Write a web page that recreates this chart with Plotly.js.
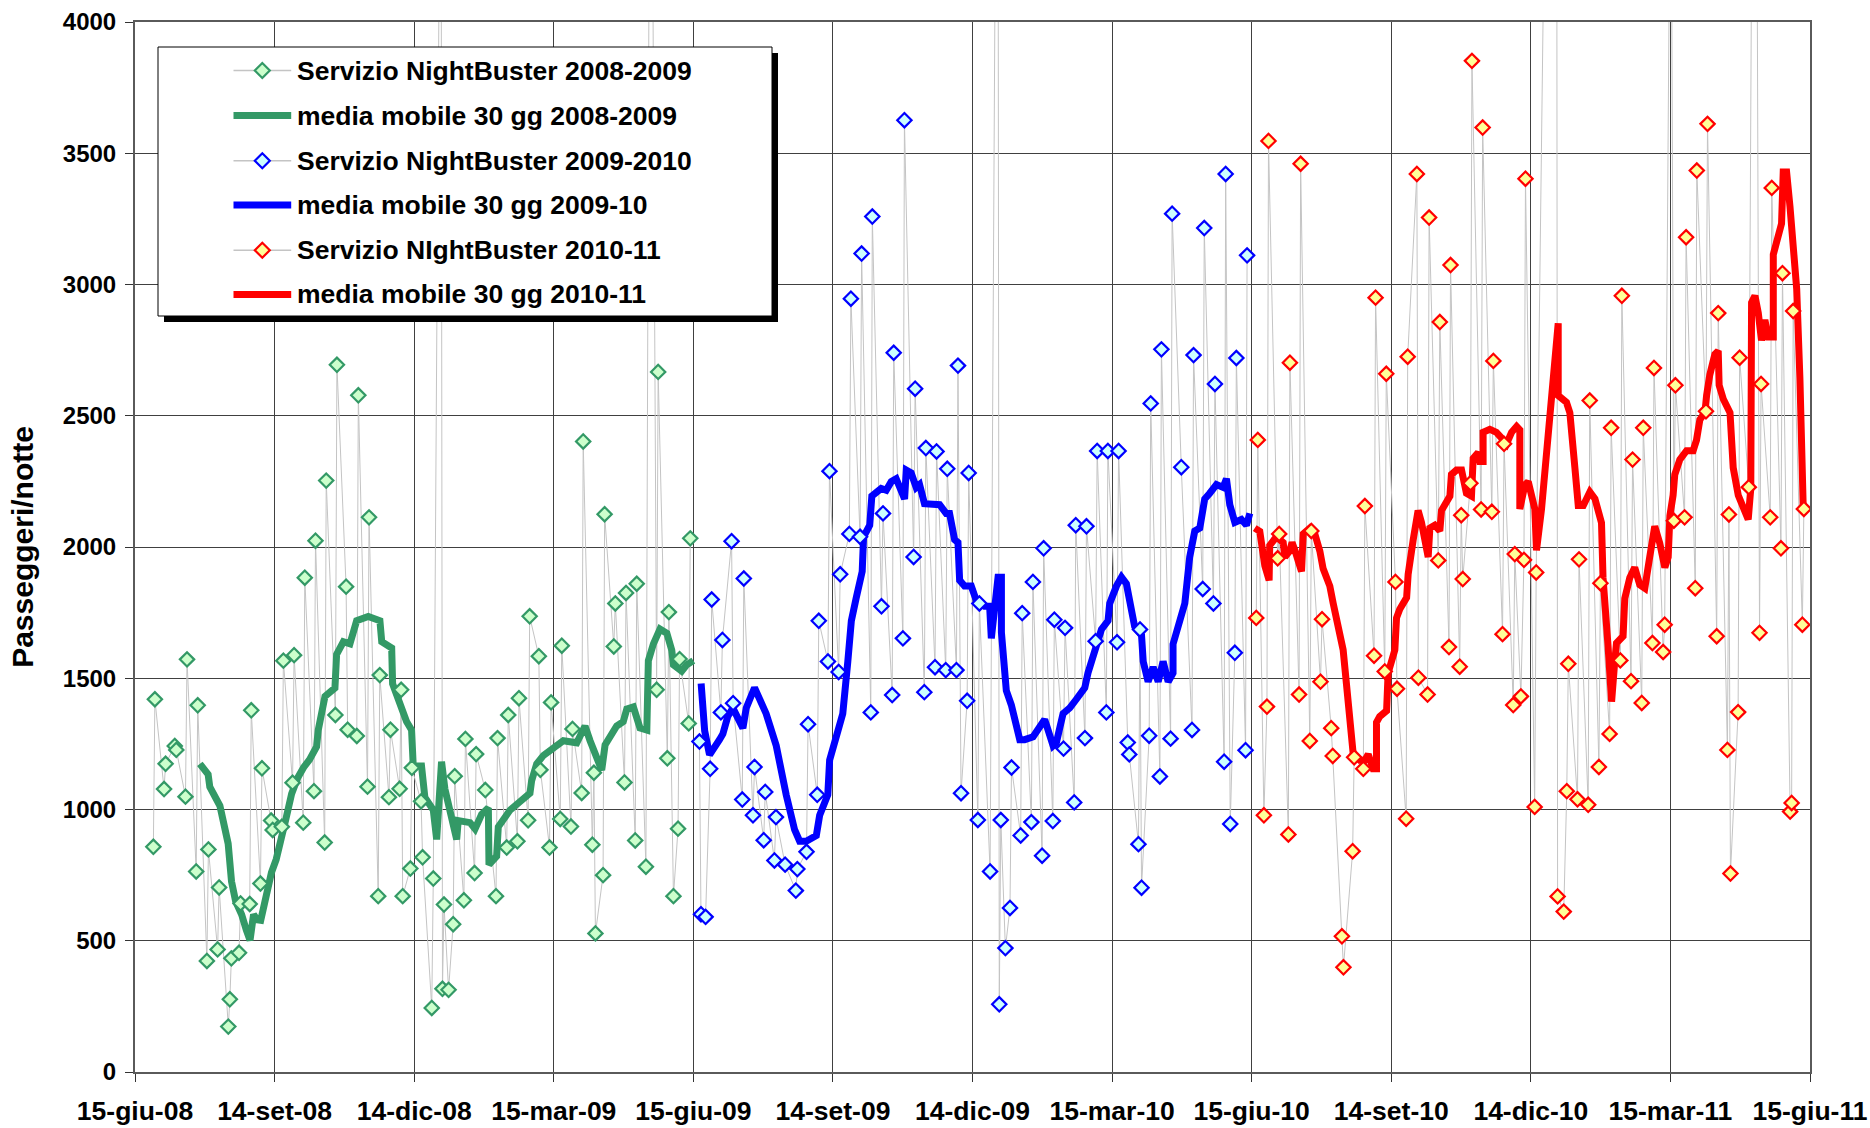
<!DOCTYPE html>
<html><head><meta charset="utf-8">
<script src="https://cdn.plot.ly/plotly-3.0.1.min.js"></script>
<style>html,body{margin:0;padding:0;background:#fff}#chart{width:1870px;height:1128px}</style>
</head><body><div id="chart"></div>
<script>
// ---- tick labels (x axis: days since 15-giu-08) ----
const tickLabels = ["15-giu-08","14-set-08","14-dic-08","15-mar-09","15-giu-09","14-set-09","14-dic-09","15-mar-10","15-giu-10","14-set-10","14-dic-10","15-mar-11","15-giu-11"];

// ---- Servizio NightBuster 2008-2009 (day offset, passengers) ----
const giorni0809 = [12,13,19,20,26,27,33,34,40,41,47,48,54,55,61,62,63,68,69,75,76,82,83,89,90,96,97,103,104,110,111,117,118,124,125,131,132,138,139,145,146,152,153,159,160,166,167,173,174,175,180,181,187,188,194,195,200,201,202,205,208,209,215,216,222,223,229,236,237,243,244,250,251,257,258,264,265,271,272,278,279,285,286,292,293,299,300,301,306,307,313,314,320,321,327,328,334,337,341,342,348,349,352,355,356,362,363];
const passeggeri0809 = [858,1420,1078,1174,1242,1227,1049,1572,764,1397,423,848,467,703,173,277,433,454,642,640,1378,718,1157,958,922,934,1567,1102,1588,950,1883,1070,2024,874,2253,1360,2694,1849,1304,1280,2578,1087,2113,670,1512,1047,1304,1079,1456,670,775,1159,1031,818,244,737,5270,317,638,313,563,1127,654,1269,758,1211,1074,670,1272,855,1360,879,1424,959,1736,1584,1151,855,1408,964,1624,935,1307,1063,2402,866,1140,528,750,2125,1621,1785,1103,1825,882,1860,782,5860,1456,2667,1195,1752,670,927,1573,1328,2033];

// ---- media mobile 30 gg 2008-2009 ----
const mediaGiorni0809 = [42.4,47.8,48.9,55.5,60.9,63.1,65.8,69.7,72.8,75.2,77.5,79.8,82.2,84.5,86.9,89.2,92.3,95.4,98.5,102.4,106.3,110.2,114.1,118.7,119.8,124.2,130.7,131.8,136.2,140.5,144.9,152.5,160.1,161.3,167.8,168.4,173.2,177.5,180.8,181.9,187.3,189.5,195,197.2,200.4,202.6,210.3,211.3,219,222.3,226.6,231,231.4,236.4,237.5,245.2,251.7,258.2,259.3,262.6,267,273.5,280,288.8,294.2,297.5,301.9,305.1,307.3,314.9,319.2,321.5,325.8,328,330.1,334.6,335.6,338.9,343.2,347.7,350.9,352,357.4,360.7,365];
const media0809 = [1174,1134,1086,1014,870,726,650,600,540,502,600,580,578,640,720,760,810,900,960,1060,1120,1160,1190,1239,1303,1431,1463,1591,1639,1631,1719,1735,1719,1639,1615,1479,1399,1335,1303,1166,1166,1046,998,886,1182,1078,886,958,950,926,982,1006,790,822,934,998,1030,1062,1110,1174,1206,1231,1262,1254,1318,1262,1190,1150,1246,1318,1335,1383,1391,1351,1311,1303,1567,1631,1687,1671,1607,1551,1527,1551,1567];

// ---- Servizio NightBuster 2009-2010 ----
const giorni0910 = [369,370,373,376,377,383,384,390,391,397,398,404,405,411,412,418,419,425,432,433,439,440,446,447,453,454,460,461,467,468,474,475,481,482,488,489,495,496,502,503,509,510,516,517,523,524,530,531,537,538,540,544,545,551,552,559,564,565,566,569,572,573,579,580,586,587,593,594,600,601,607,608,614,615,621,622,628,629,635,636,642,643,649,650,656,657,658,663,664,670,671,677,678,684,691,692,698,699,705,706,712,713,716,719,720,726,727];
const passeggeri0910 = [1259,601,591,1155,1800,1370,1646,2022,1405,1038,1880,978,1162,883,1067,806,971,790,691,773,839,1325,1056,1719,1564,2289,1524,1896,2050,2946,2039,3118,1370,3259,1774,2128,1436,2740,1652,3626,1962,2603,1447,2377,1542,2364,1531,2298,1531,2691,1062,1414,2282,960,1785,764,6000,258,960,472,625,1160,901,1748,952,1867,824,1995,956,1723,1232,1692,1027,2083,1272,2079,1641,2366,1370,2366,1637,2366,1255,1210,868,1686,702,1281,2547,1126,2753,1270,3270,2304,1303,2731,1840,3215,1785,2621,1182,3421,945,1597,2720,1226,3111];

// ---- media mobile 30 gg 2009-10 ----
const mediaGiorni0910 = [370.1,372.4,375.6,378.8,382.1,384.3,387.5,390.8,394.1,397.4,399.6,405,412.6,419.2,425.7,431.2,434.5,438.8,445.4,447.6,452.9,454.1,459.5,462.7,466,468.3,471.5,475.4,476.3,480.3,481.7,484.6,487.8,491.1,494.4,497.6,501,503.1,504.2,507.4,510.7,512.9,516.1,520.5,526,530.3,532.5,535.8,538,539.1,542.3,546.7,550,555.4,558.7,559.8,562,564.2,566.4,566.4,569.6,572.9,578.4,581.6,587.1,589.3,594.7,600.2,602.3,606.7,611.1,615.4,620.9,623,628.5,631.8,636.1,637.2,641.6,644.9,648.1,651.4,653.5,658,659.1,662.3,665.6,668.9,672.1,675.4,678.6,678.6,681.9,686.3,689.5,692.8,696.1,699.3,702.6,707,711.3,713.5,715.7,719,723.3,726.6,728.8];
const media0910 = [1480,1300,1208,1232,1266,1288,1354,1387,1354,1310,1387,1464,1365,1243,1056,923,879,879,901,978,1056,1188,1299,1365,1564,1719,1807,1907,2039,2083,2194,2209,2223,2216,2249,2260,2209,2183,2293,2282,2227,2238,2165,2165,2161,2128,2128,2028,2017,1873,1851,1851,1796,1774,1774,1652,1774,1885,1885,1675,1453,1398,1266,1266,1277,1299,1343,1243,1254,1365,1387,1420,1464,1520,1630,1686,1719,1785,1851,1885,1860,1774,1697,1664,1564,1487,1542,1487,1564,1487,1520,1630,1708,1785,1962,2061,2072,2183,2205,2238,2227,2260,2161,2094,2105,2083,2128];

// ---- Servizio NIghtBuster 2010-11 ----
const giorni1011 = [733,734,738,740,741,747,748,754,755,761,762,768,769,775,776,782,783,789,790,796,797,803,804,810,811,817,818,824,825,831,832,838,839,845,846,852,853,859,860,866,867,868,873,874,880,881,887,888,894,895,901,902,906,908,909,915,916,929,930,934,936,937,943,944,950,951,957,958,964,965,971,972,978,979,985,986,992,993,999,1000,1004,1006,1007,1013,1014,1020,1021,1027,1028,1034,1035,1041,1042,1043,1048,1049,1055,1059,1062,1063,1069,1070,1076,1077,1082,1083,1084,1090,1091];
const passeggeri1011 = [1730,2408,978,1392,3547,1957,2050,905,2702,1438,3460,1261,2061,1487,1725,1310,1204,517,399,841,1199,1155,2156,1586,2950,1526,2660,1867,1460,965,2725,3421,1502,1438,3255,1949,2857,1619,3074,1544,2121,1878,2243,3852,2143,3598,2134,2709,1668,2393,1398,1973,1431,1951,3403,1010,1903,8000,669,611,1070,1555,1039,1953,1018,2558,1162,1862,1288,2454,1568,2957,1489,2333,1406,2454,1634,2682,1600,1704,5000,2100,2616,2113,3180,1843,3434,2517,3612,1660,2891,1227,2124,756,1371,2721,2228,6660,1673,2621,2113,3368,1995,3043,992,1025,2899,1704,2145];

// ---- media mobile 30 gg 2010-11 ----
const mediaGiorni1011 = [732,735.3,738.6,741.4,741.8,746.2,750.6,751.7,754.9,756.4,758.4,760.4,762.6,763.7,768,771.3,774.6,776.7,781.1,783.3,786.5,789.8,792,794.2,796.4,800.7,804,806.2,809.4,811.6,811.6,813.7,818.2,819.2,823.6,824.7,826.8,831.3,832.3,835.6,838.8,841,843.2,845.4,846.5,849.7,853,854.1,856.3,859.6,860.6,863.9,867.2,868.3,870.4,873.7,874.8,878.1,879.2,881.3,881.3,885.7,890,893.4,896.6,899.9,903.2,905.3,905.3,908.6,910.8,915.1,916.2,919.5,922.8,927.1,930.4,930.4,935.8,938,939.1,941.3,943.5,946.8,951.1,954.4,958.7,959.7,963,965.3,967.4,968.5,972.8,973.9,977.2,980.4,983.7,987,990.2,993.5,996.8,1000.1,1002.3,1003.4,1005.5,1006.6,1009.9,1014.3,1018.6,1020.8,1023,1026.3,1027.4,1029.5,1032.8,1035,1035.6,1038.3,1042.7,1043.8,1044.8,1048.1,1051.4,1054.6,1056.3,1056.8,1059,1061.2,1063.3,1065.5,1067.7,1071,1071,1073.2,1076.4,1077.5,1079.7,1081.9,1084.1,1086.3,1088.4,1090.6];
const media1011 = [2072,2060,1929,1873,2006,2039,2017,1962,1985,2017,1985,1940,1907,2050,2072,2050,1984,1918,1851,1785,1697,1608,1476,1343,1210,1188,1188,1210,1155,1155,1332,1354,1376,1520,1608,1730,1763,1807,1896,2028,2139,2094,2017,1962,2072,2083,2061,2139,2161,2194,2276,2293,2293,2249,2205,2194,2338,2360,2326,2326,2437,2448,2437,2415,2393,2437,2459,2446,2145,2236,2249,2145,1987,2145,2341,2616,2852,2577,2551,2512,2407,2302,2158,2158,2210,2184,2092,1883,1621,1411,1568,1634,1660,1804,1883,1922,1856,1843,1961,2079,2014,1922,1961,2119,2197,2276,2333,2367,2367,2407,2485,2512,2577,2656,2734,2747,2616,2564,2512,2407,2302,2197,2145,2105,2223,2931,2957,2891,2787,2865,2800,2800,3114,3167,3232,3429,3429,3298,3088,2983,2643,2145];

const seriesNames = ["Servizio NightBuster 2008-2009","media mobile 30 gg 2008-2009","Servizio NightBuster 2009-2010","media mobile 30 gg 2009-10","Servizio NIghtBuster 2010-11","media mobile 30 gg 2010-11"];

// ---- styles ----
const FONT = '"Liberation Sans", Arial, Helvetica, sans-serif';
const GREY = '#c4c4c4';
const seasons = [
  {d:giorni0809, v:passeggeri0809, md:mediaGiorni0809, mv:media0809, line:'#339966', fill:'#ccffcc', n:0},
  {d:giorni0910, v:passeggeri0910, md:mediaGiorni0910, mv:media0910, line:'#0000ff', fill:'#ccffff', n:2},
  {d:giorni1011, v:passeggeri1011, md:mediaGiorni1011, mv:media1011, line:'#ff0000', fill:'#ffff99', n:4}
];

const traces = [];
seasons.forEach(s => {
  traces.push({type:'scatter', mode:'lines', x:s.d, y:s.v, line:{color:GREY, width:1}, hoverinfo:'skip', showlegend:false});
  traces.push({type:'scatter', mode:'lines', x:s.md, y:s.mv, name:seriesNames[s.n+1], line:{color:s.line, width:7, shape:'linear'}, showlegend:false});
  traces.push({type:'scatter', mode:'markers', x:s.d, y:s.v, name:seriesNames[s.n], marker:{symbol:'diamond', size:11, color:s.fill, line:{color:s.line, width:2.2}}, showlegend:false, cliponaxis:true});
});

// ---- manual legend (pixel layout converted to paper) ----
const M = {l:135, r:60, t:22, b:56}, W = 1870, H = 1128;
const PW = W - M.l - M.r, PH = H - M.t - M.b;
const px = a => (a - M.l) / PW;
const py = a => (H - M.b - a) / PH;
const box = {x0:158, y0:47, x1:772, y1:316}, sh = 6;
const rows = [70.5, 115.5, 160.8, 205, 250.2, 294.5];
const symX0 = 233.5, symX1 = 291.2, symC = 262.3, txtX = 295;
const shapes = [
  {type:'rect', xref:'paper', yref:'paper', layer:'above', x0:px(box.x0+sh), x1:px(box.x1+sh), y0:py(box.y0+sh), y1:py(box.y1+sh), fillcolor:'#000', line:{width:0}},
  {type:'rect', xref:'paper', yref:'paper', layer:'above', x0:px(box.x0), x1:px(box.x1), y0:py(box.y0), y1:py(box.y1), fillcolor:'#fff', line:{color:'#000', width:1}}
];
const annotations = [];
const legendStyle = [
  {kind:'marker', s:seasons[0]}, {kind:'line', s:seasons[0]},
  {kind:'marker', s:seasons[1]}, {kind:'line', s:seasons[1]},
  {kind:'marker', s:seasons[2]}, {kind:'line', s:seasons[2]}
];
legendStyle.forEach((it, i) => {
  const y = py(rows[i]);
  if (it.kind === 'marker') {
    shapes.push({type:'line', xref:'paper', yref:'paper', layer:'above', x0:px(symX0), x1:px(symX1), y0:y, y1:y, line:{color:GREY, width:1.5}});
    const hw = 7.5 / PW, hh = 7.5 / PH, cx = px(symC);
    shapes.push({type:'path', xref:'paper', yref:'paper', layer:'above',
      path:`M ${cx-hw},${y} L ${cx},${y+hh} L ${cx+hw},${y} L ${cx},${y-hh} Z`,
      fillcolor:it.s.fill, line:{color:it.s.line, width:2.2}});
  } else {
    shapes.push({type:'line', xref:'paper', yref:'paper', layer:'above', x0:px(symX0), x1:px(symX1), y0:y, y1:y, line:{color:it.s.line, width:7}});
  }
  annotations.push({xref:'paper', yref:'paper', x:px(txtX), y:y, xanchor:'left', yanchor:'middle', showarrow:false,
    text:seriesNames[i], font:{family:FONT, size:26.5, color:'#000', weight:'bold'}});
});

const tickvals = tickLabels.map((t, i) => i * 91.25);

const layout = {
  width:W, height:H, margin:M, paper_bgcolor:'#fff', plot_bgcolor:'#fff', showlegend:false,
  xaxis:{range:[0,1095], tickmode:'array', tickvals:tickvals, ticktext:tickLabels,
    showgrid:true, gridcolor:'#404040', gridwidth:1, zeroline:false,
    showline:true, linecolor:'#5a5a5a', linewidth:2, mirror:true,
    ticks:'outside', ticklen:8, tickcolor:'#333', tickwidth:1, ticklabelstandoff:6,
    tickfont:{family:FONT, size:26.5, color:'#000', weight:'bold'}},
  yaxis:{range:[0,4000], tickmode:'linear', tick0:0, dtick:500, tickformat:'d',
    showgrid:true, gridcolor:'#404040', gridwidth:1, zeroline:false,
    showline:true, linecolor:'#5a5a5a', linewidth:2, mirror:true,
    ticks:'outside', ticklen:8, tickcolor:'#333', tickwidth:1, ticklabelstandoff:4,
    tickfont:{family:FONT, size:24, color:'#000', weight:'bold'},
    title:{text:'Passeggeri/notte', font:{family:FONT, size:30, color:'#000', weight:'bold'}, standoff:20}},
  shapes:shapes, annotations:annotations
};

Plotly.newPlot('chart', traces, layout, {displayModeBar:false, staticPlot:true});
</script>
</body></html>
